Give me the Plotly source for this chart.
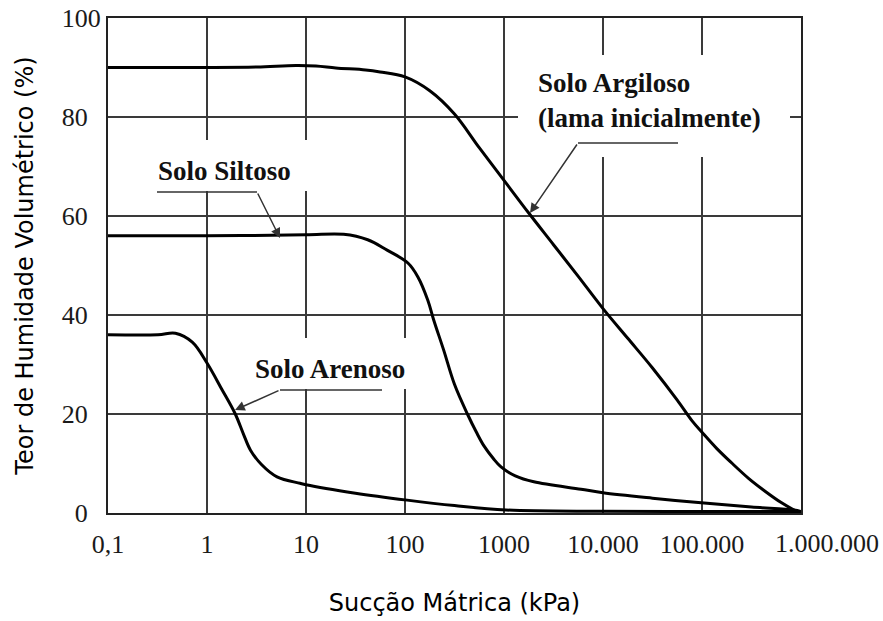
import math
import plotly.graph_objects as go

# Suction (kPa) and volumetric water content (%) for each soil
argiloso_suction = [0.1, 0.32, 1, 3.2, 7.9, 12.6, 20, 40, 56, 100, 178, 316, 562,
                    1000, 1778, 3162, 5623, 10000, 17783, 31623, 56234, 79433,
                    100000, 141254, 199526, 295121, 426580, 630957, 851138, 1000000]
argiloso_teor = [90, 90, 90, 90.1, 90.4, 90.3, 89.9, 89.5, 89.1, 88.1, 85.3, 80.6, 73.8,
                 67.2, 60.6, 54.2, 47.8, 41.3, 35.3, 29.3, 22.8, 18.6,
                 16.3, 13.0, 10.1, 7.0, 4.5, 2.1, 0.6, 0]

siltoso_suction = [0.1, 1, 10, 24, 42, 66, 107, 135, 170, 195, 245, 316, 427, 530, 630, 780, 933,
                   1300, 2000, 6000, 10000, 31600, 105000, 316000, 850000, 1000000]
siltoso_teor = [56, 56, 56.2, 56.3, 55.2, 53.1, 50.5, 47.7, 43, 39, 33, 26, 20, 16.2, 13.5, 11.0, 9.3,
                7.5, 6.3, 4.8, 4.1, 3.0, 2.0, 1.2, 0.6, 0.3]

arenoso_suction = [0.1, 0.32, 0.48, 0.71, 1.0, 1.41, 1.93, 2.35, 2.75, 3.55, 5.1, 8.7, 10,
                   31.6, 105, 316, 1050, 10000, 100000, 1000000]
arenoso_teor = [36, 36, 36.3, 34.5, 30.3, 25, 20, 15.8, 12.7, 9.8, 7.3, 6.0, 5.7,
                4.0, 2.6, 1.5, 0.6, 0.35, 0.3, 0.3]

x_tick_vals = [0.1, 1, 10, 100, 1000, 10000, 100000, 1000000]
x_tick_labels = ["0,1", "1", "10", "100", "1000", "10.000", "100.000", "1.000.000"]
y_tick_vals = [0, 20, 40, 60, 80, 100]
y_tick_labels = ["0", "20", "40", "60", "80", "100"]

NB = "\u00a0"
W, H = 883, 621
L, R, T, B = 108, 82, 18, 108
PW, PH = W - L - R, H - T - B


def px(x):
    return (x - L) / PW


def py(y):
    return (H - B - y) / PH


fig = go.Figure()
for xs, ys in [(argiloso_suction, argiloso_teor),
               (siltoso_suction, siltoso_teor),
               (arenoso_suction, arenoso_teor)]:
    fig.add_trace(go.Scatter(x=xs, y=ys, mode="lines",
                             line=dict(color="#000000", width=3, shape="spline", smoothing=1.0),
                             showlegend=False, hoverinfo="skip"))

# white boxes behind the labels (they interrupt the grid)
boxes = [(150, 140, 312, 191), (518, 55, 790, 157), (243, 338, 416, 389)]
shapes = []
for x0, y0, x1, y1 in boxes:
    shapes.append(dict(type="rect", xref="paper", yref="paper", x0=px(x0), x1=px(x1),
                       y0=py(y1), y1=py(y0), fillcolor="white", line=dict(width=0),
                       layer="above"))
# horizontal parts of the leader lines
for x0, x1, y in [(157, 257, 192), (578, 678, 143), (280, 382, 390)]:
    shapes.append(dict(type="line", xref="paper", yref="paper", x0=px(x0), x1=px(x1),
                       y0=py(y), y1=py(y), line=dict(color="#333333", width=1.5),
                       layer="above"))

label_font = dict(family="Liberation Serif, Times New Roman, serif", size=27, color="#111111")
annotations = [
    dict(xref="paper", yref="paper", x=px(224), y=py(171), text="<b>Solo Siltoso</b>",
         showarrow=False, font=label_font, xanchor="center", yanchor="middle"),
    dict(xref="paper", yref="paper", x=px(536), y=py(83), text="<b>Solo Argiloso</b>",
         showarrow=False, font=label_font, xanchor="left", yanchor="middle"),
    dict(xref="paper", yref="paper", x=px(536), y=py(118), text="<b>(lama inicialmente)</b>",
         showarrow=False, font=label_font, xanchor="left", yanchor="middle"),
    dict(xref="paper", yref="paper", x=px(330), y=py(369), text="<b>Solo Arenoso</b>",
         showarrow=False, font=label_font, xanchor="center", yanchor="middle"),
]
# diagonal arrows to the curves
for (tx, ty), (sx, sy) in [((280, 238), (257, 192)),
                           ((530, 213), (578, 143)),
                           ((235, 410), (280, 390))]:
    annotations.append(dict(xref="paper", yref="paper", x=px(tx), y=py(ty), text="",
                            showarrow=True, ax=sx - tx, ay=sy - ty, axref="pixel", ayref="pixel",
                            arrowhead=2, arrowsize=1.3, arrowwidth=1.5, arrowcolor="#333333",
                            standoff=0))

tick_font = dict(family="Liberation Serif, Times New Roman, serif", size=26, color="#1a1a1a")
title_font = dict(family="DejaVu Sans, Verdana, sans-serif", size=24, color="#000000")

# last x label sits to the right of its grid line, placed on the axis scale
annotations.append(dict(xref="x", yref="paper", x=math.log10(x_tick_vals[-1]), y=0,
                        yanchor="top", xanchor="center", xshift=26, yshift=-14,
                        text=x_tick_labels[-1], showarrow=False, font=tick_font))
x_text = x_tick_labels[:-1] + [""]
y_text = [t if t == "100" else t + NB * 2 for t in y_tick_labels]

fig.update_layout(
    width=W, height=H, autosize=False,
    margin=dict(l=L, r=R, t=T, b=B),
    paper_bgcolor="white", plot_bgcolor="white",
    shapes=shapes, annotations=annotations,
    xaxis=dict(type="log", range=[-1, 6], tickvals=x_tick_vals, ticktext=x_text,
               showgrid=True, gridcolor="#3a3a3a", gridwidth=2,
               showline=True, linecolor="#222222", linewidth=2, mirror=True,
               ticks="", tickfont=tick_font, ticklabelstandoff=7, tickangle=0,
               automargin=False,
               title=dict(text="Sucção Mátrica (kPa)", font=title_font, standoff=36),
               zeroline=False),
    yaxis=dict(range=[0, 100], tickvals=y_tick_vals, ticktext=y_text,
               showgrid=True, gridcolor="#3a3a3a", gridwidth=2,
               showline=True, linecolor="#222222", linewidth=2, mirror=True,
               ticks="", tickfont=tick_font, automargin=False,
               title=dict(text="Teor de Humidade Volumétrico (%)", font=title_font, standoff=21),
               zeroline=False),
)

fig.write_html("out.html")
